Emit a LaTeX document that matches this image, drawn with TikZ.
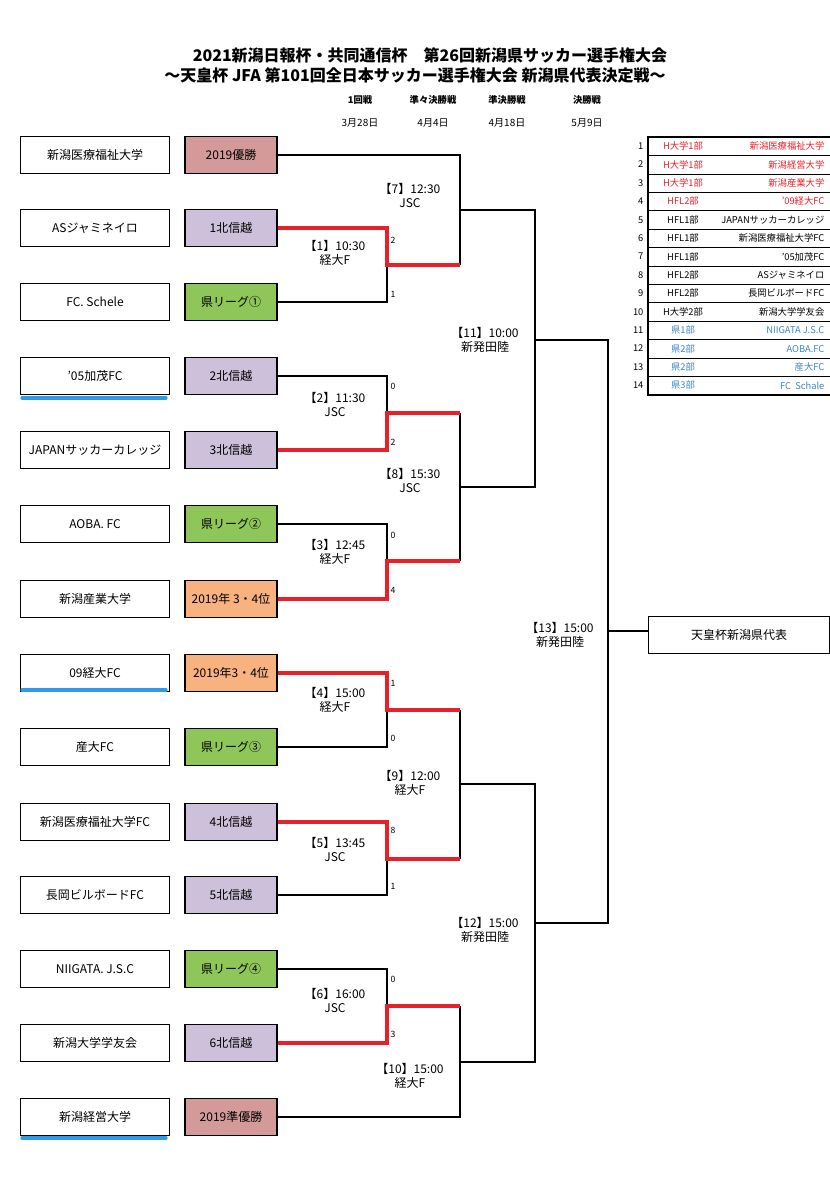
\documentclass[tikz,border=0pt]{standalone}
\usepackage{fontspec}
\setmainfont{Noto Sans CJK JP}
\usetikzlibrary{positioning,calc}
\definecolor{seedwin}{HTML}{D49A9A}
\definecolor{seedhsr}{HTML}{CCC0DA}
\definecolor{seedken}{HTML}{8FC65A}
\definecolor{seedthr}{HTML}{F7B27F}
\definecolor{winred}{HTML}{E8202A}
\definecolor{ulblue}{HTML}{2E9BE6}
\definecolor{kenblue}{HTML}{3A86C8}
\begin{document}
\begin{tikzpicture}[x=0.75pt,y=-0.75pt]
\tikzset{
    % boxes
    team/.style={draw=black, thick, minimum width=112pt, minimum height=28pt, font=\fontsize{9}{10}\selectfont},
    seed/.style={draw=black, thick, minimum width=69pt, minimum height=28pt, font=\fontsize{9}{10}\selectfont},
    % bracket lines
    lose/.style={thick},
    win/.style={winred, line width=2.6pt},
    lbl/.style={align=center, font=\fontsize{9}{10.5}\selectfont},
    sc/.style={font=\fontsize{6.5}{7}\selectfont, inner sep=1pt},
    row/.style={font=\fontsize{7}{8}\selectfont, inner sep=1pt}
}
\useasboundingbox (0,0) rectangle (830,1200);
%header
\node[font=\bfseries\fontsize{12}{14}\selectfont] (title1) at (430,55) {2021新潟日報杯・共同通信杯\quad 第26回新潟県サッカー選手権大会};
\node[font=\bfseries\fontsize{12}{14}\selectfont] (title2) at (415,75) {～天皇杯 JFA 第101回全日本サッカー選手権大会 新潟県代表決定戦～};
\foreach \x/\r/\d in {360/1回戦/3月28日, 433/準々決勝戦/4月4日, 507/準決勝戦/4月18日, 587/決勝戦/5月9日}{
  \node[font=\bfseries\fontsize{7}{8}\selectfont] at (\x,100) {\r};
  \node[font=\fontsize{7.5}{8}\selectfont] at (\x,123) {\d};
}
%teams and seeds
\foreach \i/\y/\t/\s/\c in {
  1/155/新潟医療福祉大学/2019優勝/seedwin,
  2/228/ASジャミネイロ/1北信越/seedhsr,
  3/302/FC. Schele/県リーグ①/seedken,
  4/376/'05加茂FC/2北信越/seedhsr,
  5/450/JAPANサッカーカレッジ/3北信越/seedhsr,
  6/524/AOBA. FC/県リーグ②/seedken,
  7/599/新潟産業大学/2019年 3・4位/seedthr,
  8/673/09経大FC/2019年3・4位/seedthr,
  9/747/産大FC/県リーグ③/seedken,
  10/822/新潟医療福祉大学FC/4北信越/seedhsr,
  11/895/長岡ビルボードFC/5北信越/seedhsr,
  12/969/NIIGATA. J.S.C/県リーグ④/seedken,
  13/1043/新潟大学学友会/6北信越/seedhsr,
  14/1117/新潟経営大学/2019準優勝/seedwin}{
  \node[team] (t\i) at (95,\y) {\t};
  \node[seed, fill=\c] (s\i) at (231,\y) {\s};
}
\foreach \i/\y in {4/398, 8/690, 14/1138}
  \draw[ulblue, line width=2.5pt, line cap=round] (22,\y) -- (166,\y);
%junctions
\coordinate (m1) at (387,265);
\coordinate (m2) at (387,413);
\coordinate (m3) at (387,561);
\coordinate (m4) at (387,710);
\coordinate (m5) at (387,859);
\coordinate (m6) at (387,1006);
\coordinate (m7) at (460,210);
\coordinate (m8) at (460,487);
\coordinate (m9) at (460,784);
\coordinate (m10) at (460,1062);
\coordinate (m11) at (535,340);
\coordinate (m12) at (535,923);
\coordinate (m13) at (608,631);
%losing sides first
\draw[lose] (s3.east) -| (m1);
\draw[lose] (s4.east) -| (m2);
\draw[lose] (s6.east) -| (m3);
\draw[lose] (s9.east) -| (m4);
\draw[lose] (s11.east) -| (m5);
\draw[lose] (s12.east) -| (m6);
\draw[lose] (s1.east) -| (m7) -- (m7 |- m1);
\draw[lose] (m8 |- m2) -- (m8 |- m3);
\draw[lose] (m9 |- m4) -- (m9 |- m5);
\draw[lose] (m10 |- m6) |- (s14.east);
\draw[lose] (m7) -| (m11) |- (m8);
\draw[lose] (m9) -| (m12) |- (m10);
\draw[lose] (m11) -| (m13) |- (m12);
%winners
\draw[win] (s2.east) -| (m1) -- (m7 |- m1);
\draw[win] (s5.east) -| (m2) -- (m8 |- m2);
\draw[win] (s7.east) -| (m3) -- (m8 |- m3);
\draw[win] (s8.east) -| (m4) -- (m9 |- m4);
\draw[win] (s10.east) -| (m5) -- (m9 |- m5);
\draw[win] (s13.east) -| (m6) -- (m10 |- m6);
\node[draw=black, thick, minimum width=136pt, minimum height=28pt, anchor=west, font=\fontsize{9}{10}\selectfont] (rep) at (648,635) {天皇杯新潟県代表};
\draw[lose] (m13) -- (rep.west |- m13);
%scores
\foreach \y/\v in {240/2, 294/1, 386/0, 442/2, 535/0, 590/4, 683/1, 738/0, 830/8, 886/1, 979/0, 1034/3}
  \node[sc, anchor=west] at (389,\y) {\v};
%match labels
\node[lbl] (g1) at (335,253) {【1】10:30\\経大F};
\node[lbl] (g2) at (335,404) {【2】11:30\\JSC};
\node[lbl] (g3) at (335,552) {【3】12:45\\経大F};
\node[lbl] (g4) at (335,700) {【4】15:00\\経大F};
\node[lbl] (g5) at (335,849) {【5】13:45\\JSC};
\node[lbl] (g6) at (335,1000) {【6】16:00\\JSC};
\node[lbl] (g7) at (410,195) {【7】12:30\\JSC};
\node[lbl] (g8) at (410,480) {【8】15:30\\JSC};
\node[lbl] (g9) at (410,783) {【9】12:00\\経大F};
\node[lbl] (g10) at (410,1076) {【10】15:00\\経大F};
\node[lbl] (g11) at (485,340) {【11】10:00\\新発田陸};
\node[lbl] (g12) at (485,930) {【12】15:00\\新発田陸};
\node[lbl] (g13) at (560,635) {【13】15:00\\新発田陸};
%league table
\draw[thick] (648,137) rectangle (840,395);
\foreach \i/\c/\l/\n in {
  1/winred/H大学1部/新潟医療福祉大学,
  2/winred/H大学1部/新潟経営大学,
  3/winred/H大学1部/新潟産業大学,
  4/winred/HFL2部/'09経大FC,
  5/black/HFL1部/JAPANサッカーカレッジ,
  6/black/HFL1部/新潟医療福祉大学FC,
  7/black/HFL1部/'05加茂FC,
  8/black/HFL2部/ASジャミネイロ,
  9/black/HFL2部/長岡ビルボードFC,
  10/black/H大学2部/新潟大学学友会,
  11/kenblue/県1部/NIIGATA J.S.C,
  12/kenblue/県2部/AOBA.FC,
  13/kenblue/県2部/産大FC,
  14/kenblue/県3部/FC\ \ Schale}{
  \pgfmathsetmacro{\yy}{137+18.4*(\i-0.5)}
  \node[row, anchor=east] at (645,\yy) {\i};
  \node[row, text=\c] at (683,\yy) {\l};
  \node[row, text=\c, anchor=east] at (826,\yy) {\n};
  \ifnum\i<14 \draw[thin] (648,{137+18.4*\i}) -- (840,{137+18.4*\i}); \fi
}
\end{tikzpicture}
\end{document}
